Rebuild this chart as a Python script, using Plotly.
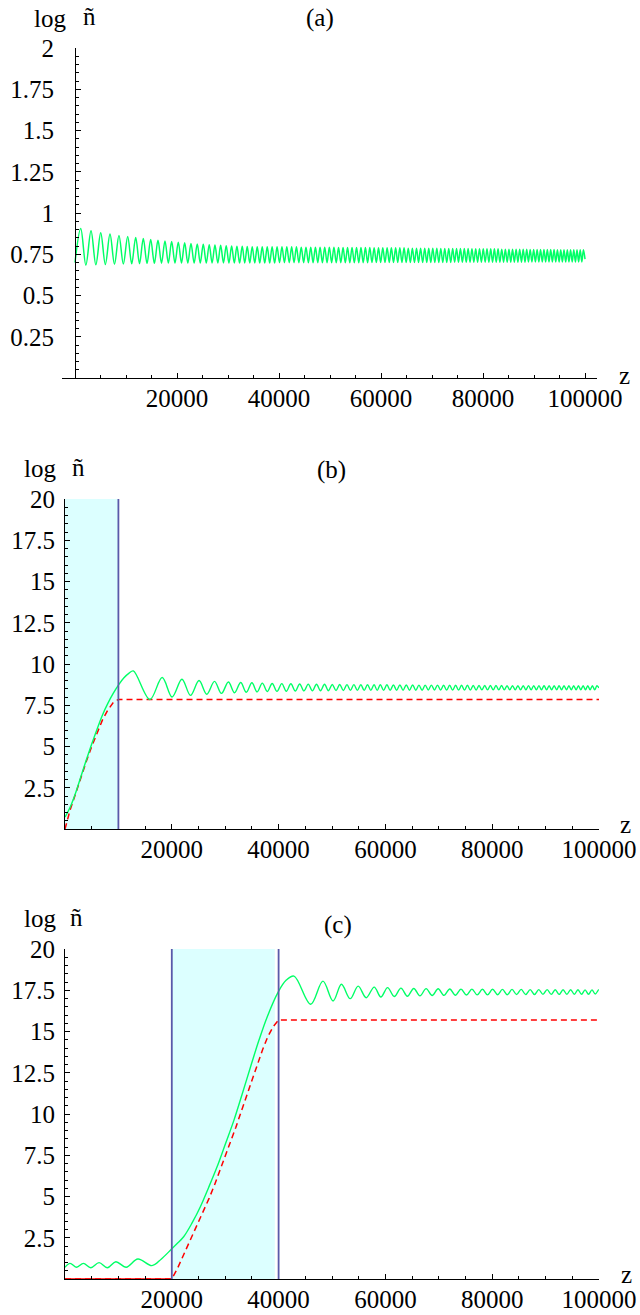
import plotly.graph_objects as go

W, H = 640, 1315
FONT = "Liberation Serif, Times New Roman, serif"
GREEN = "#00FF66"
RED = "#FF0000"
SHADE = "#DCFFFF"
VLINE = "#5A5AAA"

# ---------------- panel (a) ----------------
a_peak_z = [1120, 3140, 5040, 6860, 8620, 10330, 11900, 13390, 14840, 16270,
            17640, 18950, 20250, 21500, 22740, 23970, 25150, 26320, 27440, 28560,
            29650, 30710, 31750, 32790, 33770, 34750, 35730, 36710, 37690, 38650,
            39620, 40580, 41530, 42480, 43420, 44360, 45290, 46220, 47140, 48050,
            48960, 49870, 50770, 51670, 52560, 53440, 54320, 55200, 56070, 56940,
            57800, 58650, 59510, 60350, 61200, 62030, 62870, 63690, 64520, 65340,
            66150, 66960, 67760, 68570, 69360, 70150, 70940, 71720, 72500, 73280,
            74050, 74810, 75570, 76330, 77080, 77830, 78570, 79310, 80050, 80780,
            81510, 82230, 82950, 83670, 84380, 85090, 85790, 86490, 87190, 87880,
            88570, 89250, 89930, 90610, 91280, 91950, 92610, 93270, 93930, 94590,
            95240, 95880, 96530, 97170, 97800, 98430, 99060, 99690]
a_peak_v = [0.906, 0.892, 0.880, 0.872, 0.864, 0.858, 0.852, 0.846, 0.840, 0.835,
            0.831, 0.827, 0.823, 0.819, 0.815, 0.812, 0.810, 0.808, 0.806, 0.804,
            0.802, 0.800, 0.799, 0.798, 0.797, 0.796, 0.795, 0.795, 0.795, 0.795,
            0.795, 0.795, 0.795, 0.795, 0.795, 0.793, 0.793, 0.793, 0.793, 0.793,
            0.793, 0.793, 0.793, 0.791, 0.791, 0.791, 0.791, 0.791, 0.791, 0.791,
            0.791, 0.789, 0.789, 0.789, 0.789, 0.789, 0.789, 0.789, 0.789, 0.787,
            0.787, 0.787, 0.787, 0.787, 0.787, 0.787, 0.787, 0.785, 0.785, 0.785,
            0.785, 0.785, 0.785, 0.785, 0.785, 0.783, 0.783, 0.783, 0.783, 0.783,
            0.783, 0.783, 0.783, 0.781, 0.781, 0.781, 0.781, 0.781, 0.781, 0.781,
            0.781, 0.779, 0.779, 0.779, 0.779, 0.779, 0.779, 0.779, 0.779, 0.777,
            0.777, 0.777, 0.777, 0.777, 0.777, 0.777, 0.777, 0.777]
a_trough_z = [0, 2130, 4090, 5950, 7740, 9480, 11120, 12650, 14120, 15560,
              16960, 18300, 19600, 20880, 22120, 23360, 24560, 25740, 26880, 28000,
              29110, 30180, 31230, 32270, 33280, 34260, 35240, 36220, 37200, 38170,
              39140, 40100, 41060, 42010, 42950, 43890, 44830, 45760, 46680, 47600,
              48510, 49420, 50320, 51220, 52120, 53000, 53880, 54760, 55640, 56510,
              57370, 58230, 59080, 59930, 60780, 61620, 62450, 63280, 64110, 64930,
              65750, 66560, 67360, 68170, 68970, 69760, 70550, 71330, 72110, 72890,
              73670, 74430, 75190, 75950, 76710, 77460, 78200, 78940, 79680, 80420,
              81150, 81870, 82590, 83310, 84030, 84740, 85440, 86140, 86840, 87540,
              88230, 88910, 89590, 90270, 90950, 91620, 92280, 92940, 93600, 94260,
              94920, 95560, 96210, 96850, 97490, 98120, 98750, 99380, 100000]
a_trough_v = [0.700, 0.684, 0.686, 0.688, 0.690, 0.691, 0.692, 0.693, 0.694, 0.695,
              0.696, 0.697, 0.697, 0.697, 0.697, 0.697, 0.697, 0.697, 0.697, 0.697,
              0.697, 0.697, 0.697, 0.697, 0.697, 0.697, 0.697, 0.697, 0.697, 0.697,
              0.697, 0.699, 0.699, 0.699, 0.699, 0.699, 0.699, 0.699, 0.699, 0.699,
              0.699, 0.699, 0.699, 0.699, 0.699, 0.699, 0.699, 0.699, 0.699, 0.699,
              0.699, 0.700, 0.700, 0.700, 0.700, 0.700, 0.700, 0.700, 0.700, 0.700,
              0.700, 0.700, 0.700, 0.700, 0.700, 0.700, 0.700, 0.700, 0.700, 0.700,
              0.700, 0.702, 0.702, 0.702, 0.702, 0.702, 0.702, 0.702, 0.702, 0.702,
              0.702, 0.702, 0.702, 0.702, 0.702, 0.702, 0.702, 0.702, 0.702, 0.702,
              0.702, 0.703, 0.703, 0.703, 0.703, 0.703, 0.703, 0.703, 0.703, 0.703,
              0.703, 0.703, 0.703, 0.703, 0.703, 0.703, 0.703, 0.703, 0.720]

# ---------------- panel (b) ----------------
b_rise_z = [0, 1000, 2000, 3000, 4000, 5000, 6000, 7000, 8000, 9000, 10000, 11000, 12000]
b_rise_v = [0.72, 1.35, 2.2, 3.2, 4.2, 5.15, 6.05, 6.9, 7.6, 8.2, 8.72, 9.15, 9.45]
b_peak_z = [12800, 18200, 21900, 25100, 28000, 30600, 32900, 35000, 36950, 38800,
            40600, 42300, 43950, 45550, 47100, 48600, 50050, 51450, 52800, 54100,
            55400, 56650, 57880, 59050, 60280, 61500, 62710, 63910, 65100, 66280,
            67450, 68610, 69760, 70900, 72030, 73150, 74260, 75360, 76450, 77530,
            78600, 79660, 80710, 81750, 82780, 83800, 84810, 85810, 86800, 87780,
            88750, 89710, 90660, 91600, 92530, 93450, 94360, 95260, 96150, 97030,
            97900, 98760, 99610]
b_peak_v = [9.58, 9.18, 9.08, 9.00, 8.95, 8.91, 8.88, 8.86, 8.84, 8.82,
            8.81, 8.80, 8.79, 8.78, 8.77, 8.77, 8.76, 8.76, 8.75, 8.75,
            8.74, 8.74, 8.74, 8.74, 8.74, 8.73, 8.73, 8.73, 8.73, 8.72,
            8.72, 8.72, 8.72, 8.71, 8.71, 8.71, 8.71, 8.71, 8.70, 8.70,
            8.70, 8.70, 8.70, 8.70, 8.69, 8.69, 8.69, 8.69, 8.69, 8.69,
            8.69, 8.68, 8.68, 8.68, 8.68, 8.68, 8.68, 8.68, 8.68, 8.68,
            8.68, 8.68, 8.68]
b_trough_z = [15900, 20050, 23500, 26550, 29300, 31750, 33950, 35980, 37880, 39700,
              41450, 43130, 44750, 46330, 47850, 49330, 50750, 52130, 53450, 54750,
              56030, 57270, 58470, 59670, 60890, 62110, 63310, 64510, 65690, 66870,
              68030, 69190, 70330, 71470, 72590, 73710, 74810, 75910, 76990, 78070,
              79130, 80190, 81230, 82270, 83290, 84310, 85310, 86310, 87290, 88270,
              89230, 90190, 91130, 92070, 92990, 93910, 94810, 95710, 96590, 97470,
              98330, 99190, 100000]
b_trough_v = [7.85, 8.00, 8.10, 8.17, 8.22, 8.26, 8.29, 8.31, 8.33, 8.34,
              8.35, 8.36, 8.37, 8.37, 8.38, 8.38, 8.39, 8.39, 8.40, 8.40,
              8.40, 8.40, 8.40, 8.40, 8.41, 8.41, 8.41, 8.41, 8.41, 8.41,
              8.42, 8.42, 8.42, 8.42, 8.42, 8.42, 8.42, 8.42, 8.42, 8.43,
              8.43, 8.43, 8.43, 8.43, 8.43, 8.43, 8.43, 8.43, 8.43, 8.43,
              8.43, 8.43, 8.43, 8.43, 8.43, 8.43, 8.43, 8.43, 8.43, 8.43,
              8.43, 8.43, 8.55]
b_red_z = [0, 1000, 2000, 3000, 4000, 5000, 6000, 7000, 8000, 9000, 10000, 100000]
b_red_v = [0, 1.2, 2.15, 3.15, 4.1, 5.0, 5.85, 6.6, 7.2, 7.65, 7.85, 7.85]
b_band = [0, 10000]
b_lines = [10000]

# ---------------- panel (c) ----------------
c_pre_z = [0, 940, 2190, 3440, 4820, 6380, 7950, 9520, 11460, 13650, 16280]
c_pre_v = [0.71, 0.95, 0.71, 0.95, 0.68, 0.99, 0.68, 1.05, 0.71, 1.21, 0.81]
c_rise_z = [18000, 19910, 21000, 22220, 23800, 25350, 26900, 28480, 30050, 31610,
            33170, 34740, 36300, 37880, 39940, 41400]
c_rise_v = [1.2, 1.8, 2.15, 2.56, 3.4, 4.38, 5.55, 6.8, 8.2, 9.6,
            11.2, 12.85, 14.45, 15.9, 17.4, 18.1]
c_peak_z = [42880, 48300, 51770, 54900, 57900, 60410, 62910, 65310, 67630, 69880,
            72050, 74160, 76200, 78170, 80070, 81920, 83710, 85430, 87110, 88720,
            90290, 91800, 93270, 94690, 96060, 97390, 98680, 99920]
c_peak_v = [18.36, 18.05, 17.86, 17.75, 17.69, 17.66, 17.63, 17.61, 17.60, 17.59,
            17.58, 17.57, 17.57, 17.56, 17.56, 17.55, 17.55, 17.55, 17.54, 17.54,
            17.54, 17.53, 17.53, 17.53, 17.53, 17.52, 17.52, 17.52]
c_trough_z = [46010, 50200, 53400, 56400, 59150, 61660, 64110, 66470, 68760, 70970,
              73110, 75180, 77190, 79120, 81000, 82820, 84570, 86270, 87920, 89510,
              91050, 92540, 93980, 95380, 96730, 98040, 99300, 100000]
c_trough_v = [16.65, 16.85, 16.99, 17.05, 17.09, 17.12, 17.14, 17.16, 17.18, 17.19,
              17.20, 17.21, 17.22, 17.22, 17.23, 17.23, 17.24, 17.24, 17.24, 17.25,
              17.25, 17.25, 17.26, 17.26, 17.26, 17.26, 17.27, 17.50]
c_red_z = [0, 20000, 21000, 22000, 23000, 24000, 25000, 26000, 27000, 28000,
           29000, 30000, 31000, 32000, 33000, 34000, 35000, 36000, 37000, 38000,
           39000, 40000, 100000]
c_red_v = [0, 0, 0.6, 1.3, 2.0, 2.7, 3.4, 4.15, 4.9, 5.7,
           6.55, 7.4, 8.3, 9.2, 10.15, 11.1, 12.05, 13.0, 13.9, 14.7,
           15.3, 15.7, 15.7]
c_band = [20000, 39300]
c_lines = [20000, 40000]

x_ticks = [20000, 40000, 60000, 80000, 100000]
a_y_ticks = [0.25, 0.5, 0.75, 1, 1.25, 1.5, 1.75, 2]
a_y_text = ["0.25", "0.5", "0.75", "1", "1.25", "1.5", "1.75", "2"]
bc_y_ticks = [2.5, 5, 7.5, 10, 12.5, 15, 17.5, 20]
bc_y_text = ["2.5", "5", "7.5", "10", "12.5", "15", "17.5", "20"]


def merge(*parts):
    z, v = [], []
    for zs, vs in parts:
        n = min(len(zs), len(vs))
        z += list(zs[:n])
        v += list(vs[:n])
    order = sorted(range(len(z)), key=lambda i: z[i])
    return [z[i] for i in order], [v[i] for i in order]


def px_x(p):
    return p / W


def px_y(p):
    return 1 - p / H


fig = go.Figure()

az, av = merge((a_peak_z, a_peak_v), (a_trough_z, a_trough_v))
fig.add_trace(go.Scatter(x=az, y=av, mode="lines", xaxis="x", yaxis="y",
                         line=dict(color=GREEN, width=1.5, shape="spline", smoothing=1.0)))

bz, bv = merge((b_rise_z, b_rise_v), (b_peak_z, b_peak_v), (b_trough_z, b_trough_v))
fig.add_trace(go.Scatter(x=b_red_z, y=b_red_v, mode="lines", xaxis="x2", yaxis="y2",
                         line=dict(color=RED, width=1.5, dash="6px,4px")))
fig.add_trace(go.Scatter(x=bz, y=bv, mode="lines", xaxis="x2", yaxis="y2",
                         line=dict(color=GREEN, width=1.4, shape="spline", smoothing=1.0)))

cz, cv = merge((c_pre_z, c_pre_v), (c_rise_z, c_rise_v), (c_peak_z, c_peak_v),
               (c_trough_z, c_trough_v))
flat = [(z, v) for z, v in zip(c_red_z, c_red_v) if v == 0]
fig.add_trace(go.Scatter(x=[p[0] for p in flat], y=[p[1] for p in flat], mode="lines",
                         xaxis="x3", yaxis="y3", line=dict(color=RED, width=1.6)))
fig.add_trace(go.Scatter(x=c_red_z, y=c_red_v, mode="lines", xaxis="x3", yaxis="y3",
                         line=dict(color=RED, width=1.5, dash="6px,4px")))
fig.add_trace(go.Scatter(x=cz, y=cv, mode="lines", xaxis="x3", yaxis="y3",
                         line=dict(color=GREEN, width=1.4, shape="spline", smoothing=1.0)))

shapes = []
for xr, yr, band, lines in [("x2", "y2", b_band, b_lines), ("x3", "y3", c_band, c_lines)]:
    shapes.append(dict(type="rect", xref=xr, yref=yr, x0=band[0], x1=band[1], y0=0, y1=20,
                       fillcolor=SHADE, line=dict(width=0), layer="below"))
    for lx in lines:
        shapes.append(dict(type="line", xref=xr, yref=yr, x0=lx, x1=lx, y0=0, y1=20,
                           line=dict(color=VLINE, width=1.8), layer="above"))

FS = 25
tickfont = dict(family=FONT, size=FS, color="black")


def xaxis(domain, rng, anchor):
    return dict(domain=domain, range=rng, anchor=anchor, showgrid=False, zeroline=False,
                automargin=False,
                showline=True, linecolor="black", linewidth=1,
                tickmode="array", tickvals=x_ticks, ticktext=[str(t) for t in x_ticks],
                ticks="inside", ticklen=5, tickcolor="black", tickwidth=1,
                ticklabelstandoff=-2, tickfont=tickfont,
                minor=dict(dtick=5000, tick0=0, ticks="inside", ticklen=3,
                           tickcolor="black", showgrid=False))


def yaxis(domain, rng, vals, text, minor, **kw):
    d = dict(domain=domain, range=rng, showgrid=False, zeroline=False,
             automargin=False,
             showline=True, linecolor="black", linewidth=1,
             tickmode="array", tickvals=vals, ticktext=text,
             ticks="inside", ticklen=5, tickcolor="black", tickwidth=1,
             tickfont=tickfont,
             minor=dict(dtick=minor, tick0=0, ticks="inside", ticklen=3,
                        tickcolor="black", showgrid=False))
    d.update(kw)
    return d


a_xr = [-2550, 102350]
a_ydom = [px_y(378), px_y(48)]
b_ydom = [px_y(829), px_y(499)]
c_ydom = [px_y(1279), px_y(949)]
a_xdom = [px_x(62), px_x(597)]
bc_xdom = [px_x(65), px_x(599)]
a_ypos = a_xdom[0] + (0 - a_xr[0]) / (a_xr[1] - a_xr[0]) * (a_xdom[1] - a_xdom[0])

fig.update_layout(
    width=W, height=H, autosize=False,
    margin=dict(l=0, r=0, t=0, b=0, pad=0),
    paper_bgcolor="white", plot_bgcolor="rgba(0,0,0,0)",
    showlegend=False,
    font=dict(family=FONT, size=FS, color="black"),
    xaxis=xaxis(a_xdom, a_xr, "y"),
    yaxis=yaxis(a_ydom, [0, 2], a_y_ticks, a_y_text, 0.05,
                anchor="free", position=a_ypos, ticklabelstandoff=16),
    xaxis2=xaxis(bc_xdom, [0, 100000], "y2"),
    yaxis2=yaxis(b_ydom, [0, 20], bc_y_ticks, bc_y_text, 0.5, anchor="x2",
                 ticklabelstandoff=4),
    xaxis3=xaxis(bc_xdom, [0, 100000], "y3"),
    yaxis3=yaxis(c_ydom, [0, 20], bc_y_ticks, bc_y_text, 0.5, anchor="x3",
                 ticklabelstandoff=4),
    shapes=shapes,
)

ann = []
labels = [
    ("(a)", 320, 18), ("(b)", 331, 470), ("(c)", 338, 925),
    ("log", 50, 18), ("ñ", 89, 17),
    ("log", 40, 468), ("ñ", 78, 467),
    ("log", 40, 918), ("ñ", 76, 917),
    ("z", 624, 375), ("z", 625, 824), ("z", 626, 1274),
]
for t, x, y in labels:
    ann.append(dict(text=t, x=px_x(x), y=px_y(y), xref="paper", yref="paper",
                    xanchor="center", yanchor="middle", showarrow=False,
                    font=dict(family=FONT, size=FS, color="black")))
fig.update_layout(annotations=ann)

fig.write_html("out.html", config={"displayModeBar": False},
               post_script="document.body.style.margin='0px';"
                           "document.body.style.overflow='hidden';")
